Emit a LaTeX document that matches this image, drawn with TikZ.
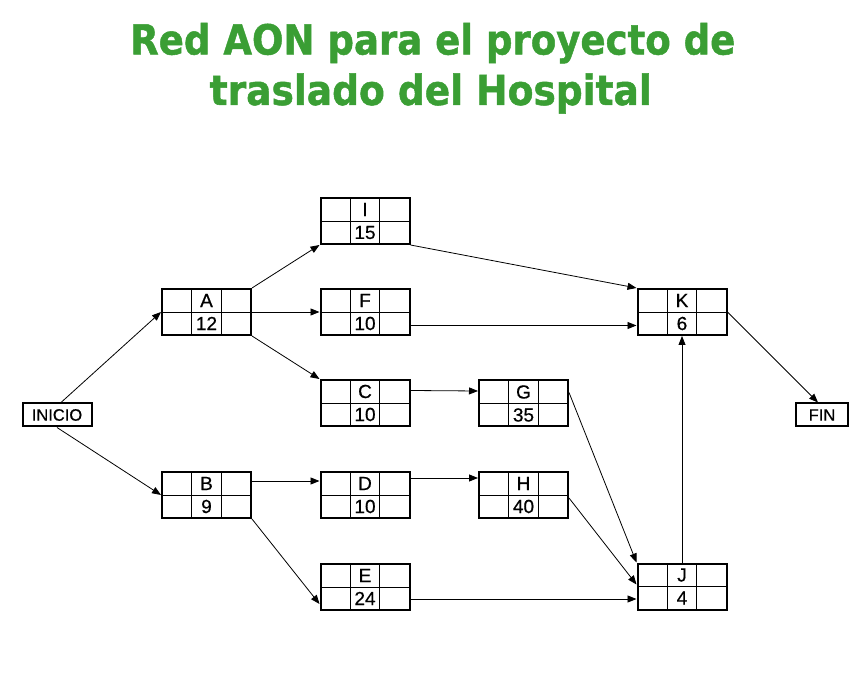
\documentclass[tikz,border=0pt]{standalone}
\usepackage{graphicx}
\usepackage{fontspec}
\setmainfont{Liberation Sans}
\newfontfamily\titlefont[FakeBold=1.2]{DejaVu Sans}
\newfontfamily\boxfont[FakeBold=0.6]{Liberation Sans}
\usetikzlibrary{arrows.meta,calc}
\definecolor{titlegreen}{RGB}{58,158,52}
\begin{document}
\begin{tikzpicture}[x=1pt,y=1pt,
  act/.style 2 args={draw, line width=2pt, minimum width=89pt, minimum height=46pt, inner sep=0pt,
    path picture={
      \draw[line width=0.9pt] (path picture bounding box.west) -- (path picture bounding box.east);
      \draw[line width=0.9pt] ($(path picture bounding box.north west)!1/3!(path picture bounding box.north east)$) -- ($(path picture bounding box.south west)!1/3!(path picture bounding box.south east)$);
      \draw[line width=0.9pt] ($(path picture bounding box.north west)!2/3!(path picture bounding box.north east)$) -- ($(path picture bounding box.south west)!2/3!(path picture bounding box.south east)$);
      \node[font=\boxfont\fontsize{19}{19}\selectfont, inner sep=0pt] at ($(path picture bounding box.center)+(0,11.5)$) {#1};
      \node[font=\boxfont\fontsize{19}{19}\selectfont, inner sep=0pt] at ($(path picture bounding box.center)+(0,-11.5)$) {#2};
    }},
  endbox/.style={draw, line width=2pt, minimum height=23pt, inner sep=0pt, font=\boxfont\fontsize{16.5}{16.5}\selectfont},
  conn/.style={line width=0.8pt, -{Triangle[length=9pt,width=7pt]}},
  titletext/.style={anchor=base west, inner sep=0pt, text=titlegreen}
]
\useasboundingbox (0,0) rectangle (864,672);
% title
\node[titletext] (t1) at (130,617.5) {\resizebox{605pt}{31.5pt}{\titlefont\bfseries Red AON para el proyecto de}};
\node[titletext] (t2) at (209.5,567) {\resizebox{442pt}{31.5pt}{\titlefont\bfseries traslado del Hospital}};
% nodes
\node[endbox, minimum width=69pt] (INICIO) at (57,257) {INICIO};
\node[endbox, minimum width=52pt] (FIN) at (822,257) {FIN};
\node[act={I}{15}] (I) at (365,451) {};
\node[act={A}{12}] (A) at (206.5,360) {};
\node[act={F}{10}] (F) at (365,360) {};
\node[act={K}{6}] (K) at (682,360) {};
\node[act={C}{10}] (C) at (365,269) {};
\node[act={G}{35}] (G) at (523.5,268.5) {};
\node[act={B}{9}] (B) at (206.5,177) {};
\node[act={D}{10}] (D) at (365,177) {};
\node[act={H}{40}] (H) at (523.5,177) {};
\node[act={E}{24}] (E) at (365,85) {};
\node[act={J}{4}] (J) at (682,85.5) {};
% connectors
\draw[conn] ([xshift=4pt]INICIO.north) -- (A.west);
\draw[conn] (INICIO.south) -- (B.west);
\draw[conn] (A.north east) -- (I.south west);
\draw[conn] (A.east) -- (F.west);
\draw[conn] (A.south east) -- (C.north west);
\draw[conn] (I.south east) -- (K.north west);
\draw[conn] ([yshift=-13.5pt]F.east) -- ([yshift=-13.5pt]K.west);
\draw[conn] ([yshift=12.5pt]C.east) -- ([yshift=12.5pt]G.west);
\draw[conn] ([yshift=14pt]B.east) -- ([yshift=14pt]D.west);
\draw[conn] ([yshift=17pt]D.east) -- ([yshift=17pt]H.west);
\draw[conn] (B.south east) -- ([yshift=-17pt]E.west);
\draw[conn] ([yshift=-12pt]E.east) -- ([yshift=-12.5pt]J.west);
\draw[conn] ([yshift=11pt]G.east) -- (J.north west);
\draw[conn] ([yshift=-3pt]H.east) -- ([yshift=2pt]J.west);
\draw[conn] (J.north) -- (K.south);
\draw[conn] (K.east) -- ([xshift=-4pt]FIN.north);
\end{tikzpicture}
\end{document}
